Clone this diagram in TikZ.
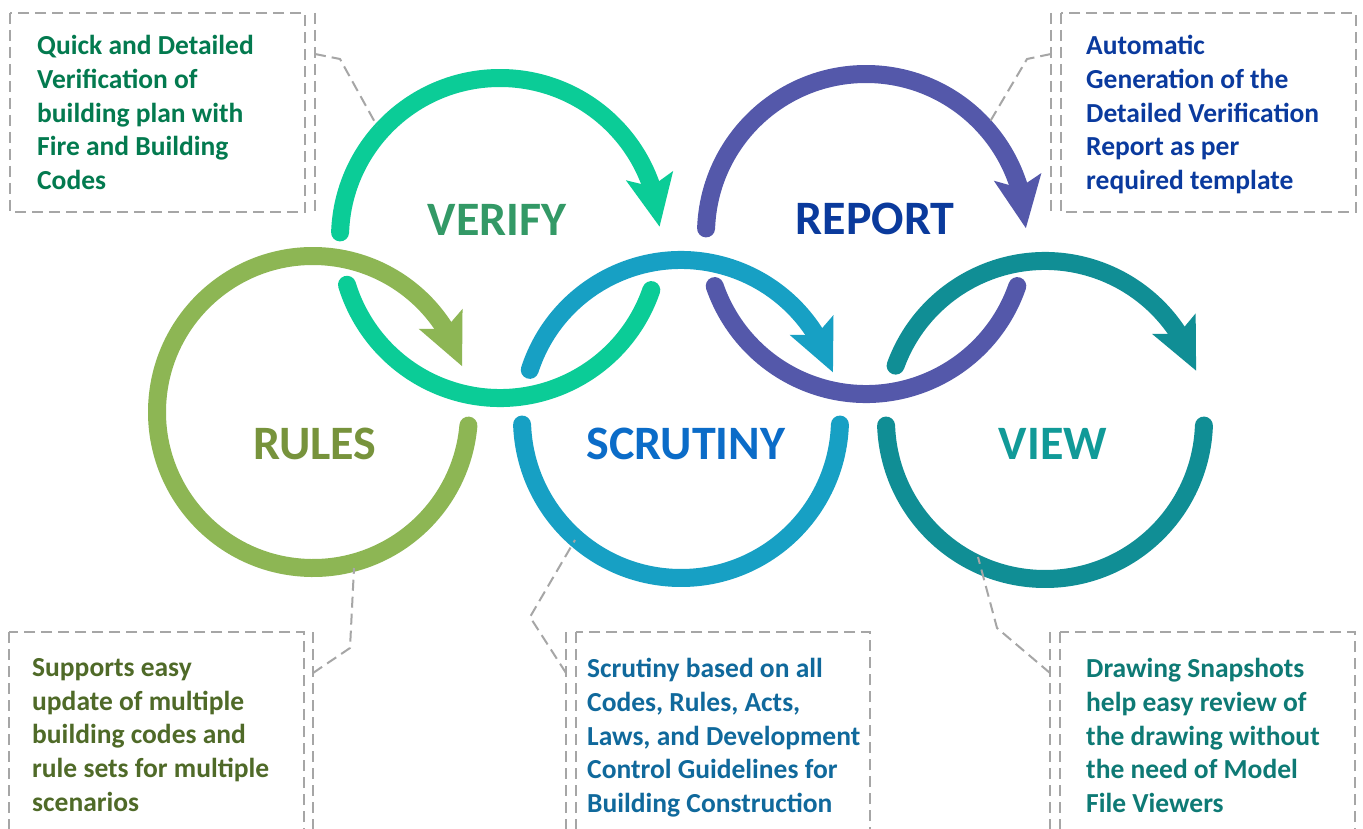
\documentclass[tikz,border=0pt]{standalone}
\usepackage{fontspec}
\setmainfont{Carlito}
\usetikzlibrary{arrows.meta,bending,calc}
\definecolor{cRules}{HTML}{8DB654}
\definecolor{cVerify}{HTML}{0BCC97}
\definecolor{cScrut}{HTML}{17A0C4}
\definecolor{cReport}{HTML}{5458AA}
\definecolor{cView}{HTML}{108E95}
\definecolor{tRules}{HTML}{77933C}
\definecolor{tVerify}{HTML}{339966}
\definecolor{tScrut}{HTML}{0B6CC8}
\definecolor{tReport}{HTML}{0A3A9C}
\definecolor{tView}{HTML}{119A98}
\definecolor{kRules}{HTML}{4F6A28}
\definecolor{kVerify}{HTML}{037A4F}
\definecolor{kScrut}{HTML}{10699C}
\definecolor{kReport}{HTML}{0A3A9E}
\definecolor{kView}{HTML}{0E7A75}
\definecolor{dashgray}{HTML}{A6A6A6}
\tikzset{
  ring/.style={line width=18pt, line cap=round},
  ringarrow/.style={ring, -{Stealth[length=51pt,width=46pt,inset=10pt]}},
  biglabel/.style={font=\bfseries\fontsize{48}{56}\selectfont, anchor=base, inner sep=0pt},
  calltext/.style={font=\bfseries\fontsize{27.5}{33.8}\selectfont, anchor=north west, align=left, inner sep=0pt},
  dashline/.style={draw=dashgray, line width=2pt, dash pattern=on 11pt off 6pt},
}
\begin{document}
\begin{tikzpicture}[x=1pt,y=-1pt]
\useasboundingbox (0,0) rectangle (1363,829);
\clip (0,0) rectangle (1363,829);
\fill[white] (0,0) rectangle (1363,829);
% centres
\coordinate (cR) at (313,412);
\coordinate (cVe) at (500,238);
\coordinate (cS) at (681,419);
\coordinate (cRe) at (866,234);
\coordinate (cVi) at (1045,420);
% RULES
\draw[ringarrow, cRules] (cR) ++(5:156) arc[start angle=5, end angle=343, radius=156];
% VERIFY
\draw[ringarrow, cVerify] (cVe) ++(182:160) arc[start angle=182, end angle=356, radius=160];
\draw[ring, cVerify] (cVe) ++(19:160) arc[start angle=19, end angle=163, radius=160];
% SCRUTINY
\draw[ringarrow, cScrut] (cS) ++(198:159) arc[start angle=198, end angle=343, radius=159];
\draw[ring, cScrut] (cS) ++(2:159) arc[start angle=2, end angle=178, radius=159];
% REPORT
\draw[ringarrow, cReport] (cRe) ++(182:160) arc[start angle=182, end angle=358, radius=160];
\draw[ring, cReport] (cRe) ++(19:160) arc[start angle=19, end angle=161, radius=160];
% VIEW
\draw[ringarrow, cView] (cVi) ++(200:159) arc[start angle=200, end angle=342, radius=159];
\draw[ring, cView] (cVi) ++(2:159) arc[start angle=2, end angle=178, radius=159];
% labels
\node[biglabel, text=tVerify] (lVerify) at (497,236) {VERIFY};
\node[biglabel, text=tReport] (lReport) at (875,235) {REPORT};
\node[biglabel, text=tRules] (lRules) at (315,459) {RULES};
\node[biglabel, text=tScrut] (lScrut) at (686,459) {SCRUTINY};
\node[biglabel, text=tView] (lView) at (1053,459) {VIEW};
% callout 1 (verify)
\draw[dashline] (10,13) rectangle (305,212);
\draw[dashline] (315,13) -- (315,212);
\coordinate (b1) at (315,54);
\coordinate (e1) at (377,126);
\draw[dashline] (b1) -- (340,59) -- (e1);
\node[calltext, text=kVerify] (t1) at (37,35) {Quick and Detailed\\Verification of\\building plan with\\Fire and Building\\Codes};
% callout 2 (report)
\draw[dashline] (1061,13) rectangle (1356,212);
\draw[dashline] (1051,13) -- (1051,212);
\coordinate (b2) at (1051,54);
\coordinate (e2) at (988,125);
\draw[dashline] (b2) -- (1027,59) -- (e2);
\node[calltext, text=kReport] (t2) at (1086,35) {Automatic\\Generation of the\\Detailed Verification\\Report as per\\required template};
% callout 3 (rules)
\draw[dashline] (9,632) rectangle (304,860);
\draw[dashline] (313,632) -- (313,860);
\coordinate (b3) at (313,673);
\coordinate (e3) at (354,568);
\draw[dashline] (b3) -- (350,648) -- (e3);
\node[calltext, text=kRules] (t3) at (32,658) {Supports easy\\update of multiple\\building codes and\\rule sets for multiple\\scenarios};
% callout 4 (scrutiny)
\draw[dashline] (576,632) rectangle (870,860);
\draw[dashline] (566,632) -- (566,860);
\coordinate (b4) at (566,673);
\coordinate (e4) at (575,540);
\draw[dashline] (b4) -- (530,617) -- (e4);
\node[calltext, text=kScrut] (t4) at (587,658) {Scrutiny based on all\\Codes, Rules, Acts,\\Laws, and Development\\Control Guidelines for\\Building Construction};
% callout 5 (view)
\draw[dashline] (1060,632) rectangle (1355,860);
\draw[dashline] (1050,632) -- (1050,860);
\coordinate (b5) at (1050,673);
\coordinate (e5) at (978,557);
\draw[dashline] (b5) -- (997,628) -- (e5);
\node[calltext, text=kView] (t5) at (1086,658) {Drawing Snapshots\\help easy review of\\the drawing without\\the need of Model\\File Viewers};
\end{tikzpicture}
\end{document}
